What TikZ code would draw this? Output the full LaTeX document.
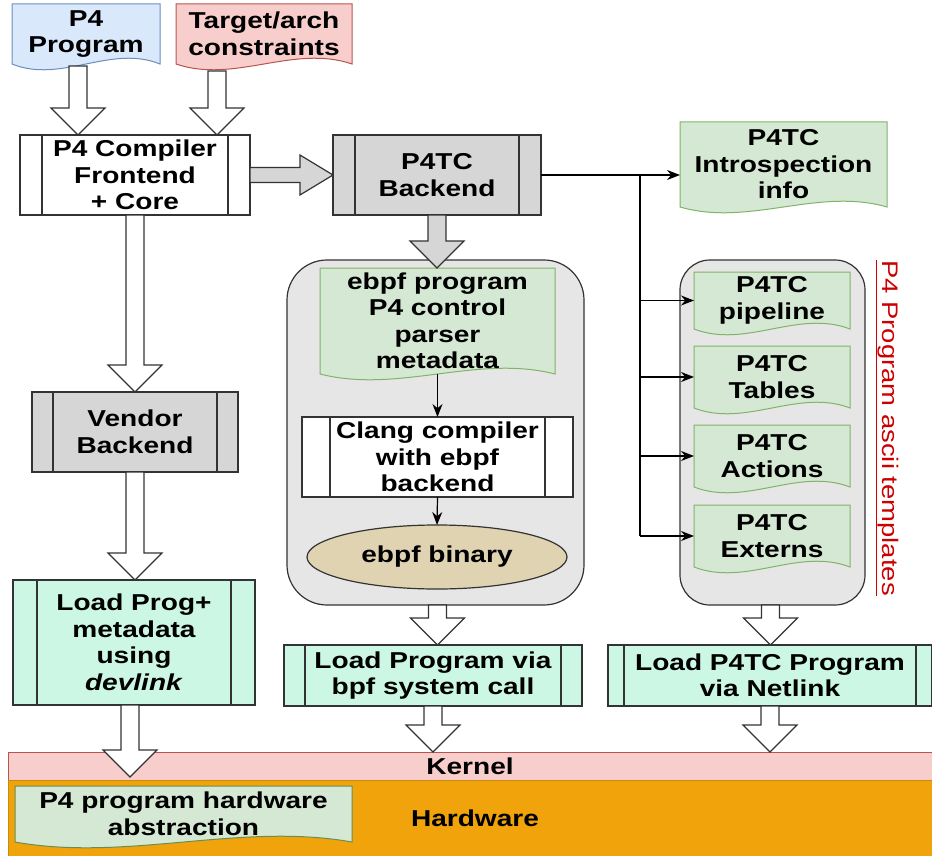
\documentclass[tikz,border=0pt]{standalone}
\usepackage{fontspec}
\setmainfont{Liberation Sans}[FakeStretch=1.22]
\usetikzlibrary{shapes.geometric,arrows.meta,calc}

\definecolor{progblue}{HTML}{DAE8FC}
\definecolor{progblueline}{HTML}{6C8EBF}
\definecolor{archred}{HTML}{F8CECC}
\definecolor{archredline}{HTML}{B85450}
\definecolor{docgreen}{HTML}{D5E8D4}
\definecolor{docgreenline}{HTML}{82B366}
\definecolor{procgray}{HTML}{D6D6D6}
\definecolor{boxgray}{HTML}{E6E6E6}
\definecolor{edgegray}{HTML}{333333}
\definecolor{bintan}{HTML}{DFD3B2}
\definecolor{loadmint}{HTML}{CCF7E4}
\definecolor{hworange}{HTML}{F0A30A}
\definecolor{hwline}{HTML}{C98A10}
\definecolor{tmplred}{HTML}{CC0000}

\pgfdeclarelayer{back}
\pgfdeclarelayer{paper}
\pgfsetlayers{back,paper,main}

% wavy document outline under a named node
\newcommand{\docwave}[2]{%
  \begin{pgfonlayer}{paper}
  \path[#2] (#1.north west) -- (#1.north east) -- (#1.south east)
    .. controls ($(#1.south east)!0.333!(#1.south west)+(0pt,20pt)$)
    and ($(#1.south east)!0.667!(#1.south west)+(0pt,-20pt)$) .. (#1.south west) -- cycle;
  \end{pgfonlayer}}

% block arrow pointing down
\newcommand{\blockdown}[3][white]{%
  \draw[blockarr, fill=#1] let \p1=#2, \p2=#3 in
    (\x1-9pt,\y1) -- (\x1-9pt,\y2+27pt) -- (\x1-27pt,\y2+27pt) -- (\x1,\y2)
    -- (\x1+27pt,\y2+27pt) -- (\x1+9pt,\y2+27pt) -- (\x1+9pt,\y1) -- cycle;}

% block arrow pointing right
\newcommand{\blockright}[3][white]{%
  \draw[blockarr, fill=#1] let \p1=#2, \p2=#3 in
    (\x1,\y1+7.5pt) -- (\x2-33pt,\y1+7.5pt) -- (\x2-33pt,\y1+20pt) -- (\x2,\y1)
    -- (\x2-33pt,\y1-20pt) -- (\x2-33pt,\y1-7.5pt) -- (\x1,\y1-7.5pt) -- cycle;}

\begin{document}
\begin{tikzpicture}[x=1pt, y=-1pt,
    font=\fontsize{23}{26.5}\selectfont\bfseries,
    every node/.style={align=center, inner sep=0pt, outer sep=0pt},
    procbox/.style={draw=edgegray, line width=1.2pt, path picture={
      \draw[edgegray, line width=1.2pt]
        ([xshift=#1]path picture bounding box.north west) -- ([xshift=#1]path picture bounding box.south west)
        ([xshift=-#1]path picture bounding box.north east) -- ([xshift=-#1]path picture bounding box.south east);}},
    procbox/.default=22pt,
    docbox/.style={minimum width=#1},
    container/.style={draw=edgegray, fill=boxgray, line width=1.2pt},
    blockarr/.style={draw=edgegray, line width=1.2pt, line join=miter},
    link/.style={line width=1.2pt, -{Stealth[length=13pt,width=10pt]}}]
  \useasboundingbox (0,0) rectangle (932,856);

  % layers below
  \begin{pgfonlayer}{back}
    \node[fill=archred, draw=archredline, line width=0.8pt, minimum width=924pt, minimum height=28pt] (kernel) at (470,766) {Kernel};
    \node[fill=hworange, draw=hwline, line width=0.8pt, minimum width=924pt, minimum height=76pt] (hw) at (470,818) {\hspace*{10pt}Hardware};
    \node[container, rounded corners=40pt, minimum width=297pt, minimum height=345pt] (tcbox) at (435.5,432.5) {};
    \node[container, rounded corners=30pt, minimum width=185pt, minimum height=345pt] (tmpl) at (772.5,432.5) {};
  \end{pgfonlayer}

  % inputs
  \node[docbox=148pt, minimum height=60pt] (prog) at (86,34) {P4\\Program};
  \docwave{prog}{fill=progblue, draw=progblueline, line width=1pt}
  \node[docbox=176pt, minimum height=60pt] (arch) at (264,34) {Target/arch\\constraints};
  \docwave{arch}{fill=archred, draw=archredline, line width=1pt}

  % compilers
  \node[procbox, fill=white, minimum width=230pt, minimum height=80pt] (comp) at (135,175) {P4 Compiler\\Frontend\\+ Core};
  \node[procbox, fill=procgray, minimum width=208pt, minimum height=80pt] (p4tc) at (437,175) {P4TC\\Backend};
  \node[procbox=21pt, fill=procgray, minimum width=206pt, minimum height=80pt] (vendor) at (135,432) {Vendor\\Backend};

  \node[docbox=207pt, minimum height=85pt] (intro) at (783.5,164.5) {P4TC\\Introspection\\info};
  \docwave{intro}{fill=docgreen, draw=docgreenline, line width=1pt}

  % ebpf side
  \node[docbox=235pt, minimum height=106pt] (ebpfprog) at (437.5,321) {ebpf program\\P4 control\\parser\\metadata};
  \docwave{ebpfprog}{fill=docgreen, draw=docgreenline, line width=1pt}
  \node[procbox=28pt, fill=white, minimum width=271pt, minimum height=80pt] (clang) at (437.5,457) {Clang compiler\\with ebpf\\backend};
  \node[ellipse, draw=edgegray, line width=1.2pt, fill=bintan, minimum width=260pt, minimum height=64pt] (binary) at (437,557) {ebpf binary};

  % templates
  \node[docbox=156pt, minimum height=57pt] (pipe) at (772,300.5) {P4TC\\pipeline};
  \docwave{pipe}{fill=docgreen, draw=docgreenline, line width=1pt}
  \node[docbox=156pt, minimum height=62pt] (tables) at (772,377) {P4TC\\Tables};
  \docwave{tables}{fill=docgreen, draw=docgreenline, line width=1pt}
  \node[docbox=156pt, minimum height=62pt] (actions) at (772,456) {P4TC\\Actions};
  \docwave{actions}{fill=docgreen, draw=docgreenline, line width=1pt}
  \node[docbox=156pt, minimum height=62pt] (externs) at (772,536) {P4TC\\Externs};
  \docwave{externs}{fill=docgreen, draw=docgreenline, line width=1pt}
  \node[rotate=-90, font=\fontsize{22.5}{24}\selectfont, text=tmplred] (tmpltitle) at (887,428) {\underline{P4 Program ascii templates}};

  % loaders
  \node[procbox=24pt, fill=loadmint, minimum width=242pt, minimum height=125pt] (loadprog) at (134,642.5) {Load Prog+\\metadata\\using\\\textit{devlink}};
  \node[procbox=21pt, fill=loadmint, minimum width=298pt, minimum height=61pt] (loadbpf) at (433,675.5) {Load Program via\\bpf system call};
  \node[procbox=16pt, fill=loadmint, minimum width=324pt, minimum height=61pt] (loadnl) at (770,675.5) {Load P4TC Program\\via Netlink};

  \node[docbox=337pt, minimum height=56pt] (hwabs) at (183.5,814) {P4 program hardware\\abstraction};
  \docwave{hwabs}{fill=docgreen, draw=docgreenline!80!black, line width=1pt}

  % block arrows
  \blockdown{([xshift=-8pt,yshift=-2pt]prog.south)}{(comp.north)}
  \blockdown{([xshift=-47pt,yshift=-7pt]arch.south)}{(comp.north)}
  \blockright[procgray]{(comp.east)}{(p4tc.west)}
  \blockdown{(comp.south)}{(vendor.north)}
  \blockdown{(vendor.south)}{(loadprog.north)}
  \blockdown{([xshift=-4pt]loadprog.south)}{([yshift=3pt]kernel.south)}
  \blockdown[procgray]{(p4tc.south)}{(ebpfprog.north)}
  \blockdown{([xshift=2pt]tcbox.south)}{(loadbpf.north)}
  \blockdown{(loadbpf.south)}{(kernel.north)}
  \blockdown{([xshift=-2pt]tmpl.south)}{(loadnl.north)}
  \blockdown{(loadnl.south)}{(kernel.north)}

  % thin links
  \draw[link] (ebpfprog.south) -- (clang.north);
  \draw[link] (clang.south) -- (binary.north);
  \coordinate (bus) at (640,175);
  \draw[link] (p4tc.east) -- (p4tc.east -| intro.west);
  \draw[line width=1.2pt] (bus) -- (bus |- externs.west);
  \draw[link] (bus |- pipe.west) -- (pipe.west);
  \draw[link] (bus |- tables.west) -- (tables.west);
  \draw[link] (bus |- actions.west) -- (actions.west);
  \draw[link] (bus |- externs.west) -- (externs.west);
\end{tikzpicture}
\end{document}
